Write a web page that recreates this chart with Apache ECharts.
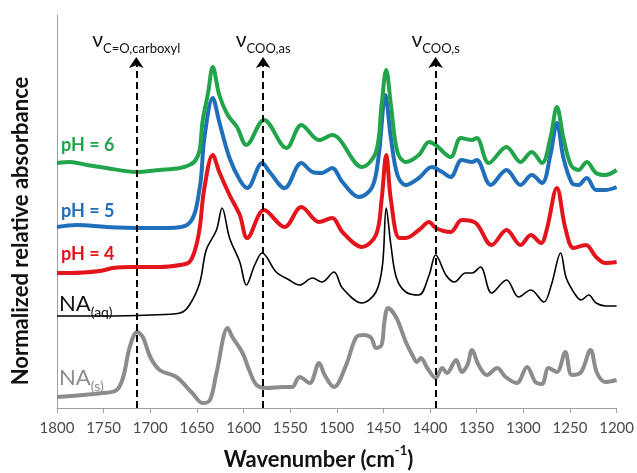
<!DOCTYPE html>
<html><head><meta charset="utf-8">
<script src="https://cdn.jsdelivr.net/npm/echarts@6/dist/echarts.min.js"></script>
<style>html,body{margin:0;padding:0;background:#fff}#c{width:637px;height:473px}</style>
</head><body><div id="c"></div>
<script>
// x: wavenumber (cm-1), y: normalized relative absorbance (offset, arbitrary units)
const xTicks = [1800,1750,1700,1650,1600,1550,1500,1450,1400,1350,1300,1250,1200];
const pH6 = [[1800,2.45],[1786,2.46],[1768,2.43],[1747,2.40],[1715,2.36],[1690,2.38],[1668,2.40],[1658,2.43],[1652,2.47],[1647,2.58],[1644,2.86],[1638,3.15],[1633,3.41],[1626,3.13],[1617,2.93],[1607,2.81],[1597,2.63],[1578,2.88],[1554,2.60],[1538,2.83],[1519,2.68],[1505,2.73],[1473,2.41],[1458,2.56],[1452,3.03],[1447,3.38],[1442,3.03],[1435,2.56],[1426,2.46],[1412,2.53],[1401,2.66],[1394,2.63],[1378,2.51],[1367,2.70],[1355,2.68],[1350,2.70],[1337,2.45],[1318,2.61],[1303,2.46],[1291,2.56],[1280,2.45],[1271,2.70],[1264,3.01],[1257,2.70],[1249,2.43],[1241,2.38],[1232,2.46],[1222,2.35],[1212,2.33],[1200,2.38]];
const pH5 = [[1800,1.81],[1779,1.83],[1747,1.81],[1708,1.80],[1682,1.80],[1658,1.85],[1647,2.20],[1642,2.70],[1633,3.10],[1626,2.86],[1615,2.50],[1604,2.28],[1596,2.20],[1580,2.45],[1572,2.36],[1556,2.20],[1538,2.45],[1526,2.36],[1516,2.35],[1505,2.40],[1494,2.26],[1476,2.11],[1462,2.21],[1455,2.53],[1448,3.13],[1442,2.70],[1435,2.33],[1426,2.23],[1412,2.30],[1398,2.41],[1387,2.36],[1378,2.31],[1366,2.48],[1355,2.46],[1350,2.48],[1335,2.23],[1318,2.38],[1303,2.23],[1291,2.33],[1280,2.25],[1271,2.53],[1264,2.85],[1257,2.50],[1248,2.25],[1241,2.23],[1232,2.30],[1222,2.18],[1212,2.18],[1200,2.21]];
const pH4 = [[1800,1.35],[1786,1.35],[1754,1.37],[1740,1.40],[1719,1.41],[1690,1.41],[1668,1.43],[1658,1.46],[1652,1.58],[1647,1.80],[1642,2.20],[1633,2.53],[1626,2.36],[1615,2.13],[1604,1.93],[1596,1.70],[1578,1.98],[1556,1.81],[1538,2.01],[1519,1.86],[1505,1.90],[1494,1.76],[1473,1.61],[1458,1.73],[1452,2.08],[1447,2.53],[1442,2.08],[1433,1.70],[1426,1.70],[1412,1.78],[1401,1.86],[1394,1.80],[1378,1.76],[1366,1.88],[1351,1.85],[1334,1.63],[1318,1.78],[1303,1.63],[1292,1.73],[1281,1.65],[1275,1.78],[1264,2.20],[1255,1.80],[1246,1.60],[1233,1.63],[1222,1.51],[1212,1.45],[1200,1.46]];
const naAq = [[1800,0.92],[1750,0.92],[1700,0.93],[1668,0.95],[1658,1.03],[1647,1.25],[1640,1.58],[1629,1.78],[1623,2.00],[1615,1.70],[1604,1.46],[1597,1.23],[1588,1.43],[1580,1.55],[1565,1.36],[1551,1.28],[1540,1.23],[1526,1.30],[1516,1.26],[1503,1.36],[1494,1.20],[1473,1.05],[1458,1.16],[1451,1.43],[1447,2.00],[1442,1.63],[1436,1.30],[1426,1.16],[1412,1.13],[1401,1.33],[1394,1.53],[1383,1.33],[1374,1.26],[1362,1.35],[1355,1.35],[1346,1.41],[1334,1.15],[1318,1.28],[1305,1.11],[1292,1.18],[1278,1.06],[1270,1.23],[1260,1.55],[1254,1.30],[1244,1.13],[1238,1.08],[1230,1.13],[1222,1.05],[1212,1.02],[1200,1.02]];
const naS = [[1800,0.11],[1751,0.15],[1736,0.18],[1729,0.31],[1722,0.61],[1714,0.76],[1708,0.71],[1700,0.51],[1690,0.38],[1672,0.31],[1655,0.15],[1644,0.05],[1636,0.08],[1629,0.35],[1617,0.80],[1612,0.71],[1601,0.55],[1594,0.38],[1586,0.23],[1575,0.20],[1558,0.21],[1548,0.21],[1540,0.31],[1529,0.25],[1519,0.45],[1513,0.33],[1503,0.21],[1490,0.43],[1479,0.71],[1471,0.73],[1463,0.70],[1458,0.60],[1452,0.63],[1449,0.86],[1445,1.00],[1436,0.90],[1426,0.66],[1419,0.53],[1414,0.46],[1410,0.50],[1403,0.40],[1394,0.30],[1387,0.40],[1382,0.35],[1372,0.48],[1366,0.36],[1360,0.43],[1355,0.58],[1348,0.43],[1339,0.33],[1328,0.40],[1319,0.31],[1307,0.25],[1296,0.41],[1287,0.26],[1280,0.24],[1273,0.40],[1264,0.36],[1255,0.56],[1248,0.33],[1238,0.36],[1228,0.58],[1221,0.35],[1212,0.26],[1200,0.28]];
const markerWn = [1715, 1579, 1394];
const markerSub = ['C=O,carboxyl', 'COO,as', 'COO,s'];
const markerTop = 3.51;

const FONT = 'Lato';
const chart = echarts.init(document.getElementById('c'), null, {renderer: 'canvas'});

function lineSeries(name, data, color, width) {
  return {name, type: 'line', data, showSymbol: false, smooth: 0.35,
    lineStyle: {color, width}, itemStyle: {color}, animation: false, z: 3};
}
const s = [
  lineSeries('NA(s)', naS, '#8c8c8c', 4),
  lineSeries('NA(aq)', naAq, '#000000', 1.6),
  lineSeries('pH = 4', pH4, '#e3141b', 4),
  lineSeries('pH = 5', pH5, '#1f6fba', 4),
  lineSeries('pH = 6', pH6, '#22a54a', 4)
];
s.push({
  type: 'line', data: [], silent: true, animation: false,
  markLine: {
    silent: true, animation: false, symbol: ['none', 'arrow'], symbolSize: 11,
    lineStyle: {color: '#000', width: 2, type: [7, 4]},
    label: {show: true, position: 'end', distance: 2,
      formatter: p => '{v|ν}{s|' + p.name + '}',
      rich: {
        v: {fontFamily: FONT, fontSize: 21, color: '#111', verticalAlign: 'top', padding: [0, 0, 4, 0]},
        s: {fontFamily: FONT, fontSize: 13, color: '#111', verticalAlign: 'bottom'}
      }},
    data: markerWn.map((w, i) => [{name: markerSub[i], coord: [w, 0]}, {coord: [w, markerTop]}])
  }
});

const labelText = (txt, color, top) => ({type: 'text', left: 61, top,
  style: {text: txt, fill: color, font: 'bold 18px ' + FONT}});

chart.setOption({
  animation: false,
  grid: {left: 57, right: 19, top: 15, bottom: 65},
  xAxis: {type: 'value', inverse: true, min: xTicks[xTicks.length - 1], max: xTicks[0], interval: 50,
    axisLine: {lineStyle: {color: '#a0a0a0', width: 1}},
    axisTick: {show: true, length: 5, lineStyle: {color: '#a0a0a0'}},
    axisLabel: {fontFamily: FONT, fontSize: 15, color: '#4a4a4a', margin: 13,
      formatter: v => String(v)},
    splitLine: {show: false}},
  yAxis: {type: 'value', min: 0, max: 3.93,
    axisLine: {show: true, lineStyle: {color: '#a0a0a0'}},
    axisTick: {show: false}, axisLabel: {show: false}, splitLine: {show: false}},
  series: s,
  graphic: [
    labelText('pH = 6', '#22a54a', 136),
    labelText('pH = 5', '#1f6fba', 202),
    labelText('pH = 4', '#e3141b', 245),
    {type: 'text', left: 59, top: 293, style: {text: '{a|NA}{b|(aq)}', rich: {
      a: {fontFamily: FONT, fontSize: 22, fill: '#111', verticalAlign: 'top', padding: [0, 0, 4, 0]},
      b: {fontFamily: FONT, fontSize: 14, fill: '#111', verticalAlign: 'bottom'}}}},
    {type: 'text', left: 59, top: 367, style: {text: '{a|NA}{b|(s)}', rich: {
      a: {fontFamily: FONT, fontSize: 22, fill: '#8c8c8c', verticalAlign: 'top', padding: [0, 0, 4, 0]},
      b: {fontFamily: FONT, fontSize: 14, fill: '#8c8c8c', verticalAlign: 'bottom'}}}},
    {type: 'text', left: 'center', top: 444, style: {text: '{a|Wavenumber (cm}{s|-1}{a|)}', rich: {
      a: {fontFamily: FONT, fontSize: 22, fontWeight: 'bold', fill: '#111', verticalAlign: 'bottom', padding: [5, 0, 0, 0]},
      s: {fontFamily: FONT, fontSize: 13, fontWeight: 'bold', fill: '#111', verticalAlign: 'top'}}}},
    {type: 'text', x: 10, y: 231, rotation: Math.PI / 2,
      style: {text: 'Normalized relative absorbance', font: 'bold 22px ' + FONT, fill: '#111',
        align: 'center', verticalAlign: 'top'}}
  ]
});
</script></body></html>
